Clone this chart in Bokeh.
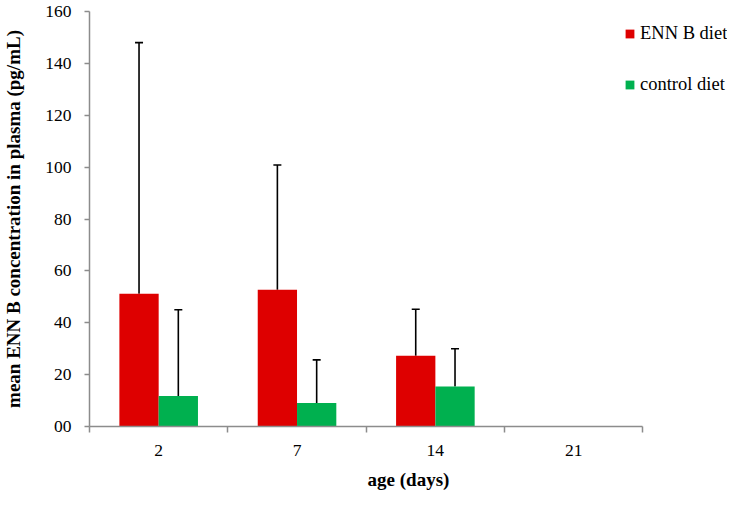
import numpy as np
from bokeh.plotting import figure
from bokeh.models import (ColumnDataSource, FixedTicker, Whisker, TeeHead, Legend, LegendItem, Range1d)
from bokeh.embed import file_html
from bokeh.resources import INLINE

ages = ["2", "7", "14", "21"]
enn_mean = [51.2, 52.7, 27.3, np.nan]
enn_sd = [96.8, 48.1, 17.9, np.nan]
ctrl_mean = [11.8, 9.1, 15.4, np.nan]
ctrl_sd = [33.2, 16.6, 14.6, np.nan]
y_ticks = [0, 20, 40, 60, 80, 100, 120, 140, 160]

RED = "#DE0000"
GREEN = "#00B04F"
AXIS = "#8C8C8C"
FONT = "Liberation Serif"

W, H = 727, 492
LEFT, TOP, BOTTOM = 86, 11, 64
AXIS_PX = 556            # pixel length of the category axis
frame_w = W - LEFT       # frame runs to the right edge so the legend is not clipped
x_end = len(ages) * frame_w / AXIS_PX

bw = 0.284
idx = np.arange(len(ages))

p = figure(width=W, height=H, output_backend="svg", toolbar_location=None,
           x_range=Range1d(0, x_end), y_range=Range1d(0, 160),
           min_border_left=LEFT, min_border_top=TOP, min_border_right=0, min_border_bottom=BOTTOM)
p.grid.visible = False
p.outline_line_color = None
p.background_fill_color = "white"
p.border_fill_color = "white"

def series(mean, sd, offset):
    m = np.array(mean, dtype=float)
    s = np.array(sd, dtype=float)
    ok = ~np.isnan(m)
    x = idx[ok] + 0.5 + offset
    return ColumnDataSource(dict(x=x, top=m[ok], upper=m[ok] + s[ok]))

src_r = series(enn_mean, enn_sd, -bw / 2)
src_g = series(ctrl_mean, ctrl_sd, bw / 2)

for src in (src_r, src_g):
    w = Whisker(source=src, base="x", lower="top", upper="upper", dimension="height",
                line_color="black", line_width=1.6, lower_head=None,
                upper_head=TeeHead(size=8, line_color="black", line_width=1.6))
    p.add_layout(w)

r_red = p.vbar(x="x", top="top", bottom=0, width=bw, source=src_r, fill_color=RED, line_color=None)
r_green = p.vbar(x="x", top="top", bottom=0, width=bw, source=src_g, fill_color=GREEN, line_color=None)

# x axis
xa = p.xaxis[0]
xa.bounds = (0, len(ages))
xa.ticker = FixedTicker(ticks=list(idx + 0.5), minor_ticks=list(range(len(ages) + 1)))
xa.major_label_overrides = {float(i + 0.5): a for i, a in enumerate(ages)}
xa.major_tick_out = 0
xa.major_tick_in = 0
xa.minor_tick_out = 6
xa.minor_tick_in = 0
xa.minor_tick_line_color = AXIS
xa.minor_tick_line_width = 1.5
xa.axis_line_color = AXIS
xa.axis_line_width = 1.5
xa.major_label_text_font = FONT
xa.major_label_text_font_size = "17.5px"
xa.major_label_text_color = "black"
xa.major_label_standoff = 12
xa.axis_label = "age (days)"
xa.axis_label_text_font = FONT
xa.axis_label_text_font_style = "bold"
xa.axis_label_text_font_size = "19px"
xa.axis_label_text_color = "black"
xa.axis_label_standoff = 10

# y axis
ya = p.yaxis[0]
ya.ticker = FixedTicker(ticks=y_ticks, minor_ticks=[])
ya.major_label_overrides = {0: "00"}
ya.major_tick_out = 5
ya.major_tick_in = 0
ya.major_tick_line_color = AXIS
ya.major_tick_line_width = 1.5
ya.axis_line_color = AXIS
ya.axis_line_width = 1.5
ya.major_label_text_font = FONT
ya.major_label_text_font_size = "17.5px"
ya.major_label_text_color = "black"
ya.major_label_standoff = 13
ya.axis_label = "mean ENN B concentration in plasma (pg/mL)"
ya.axis_label_text_font = FONT
ya.axis_label_text_font_style = "bold"
ya.axis_label_text_font_size = "19px"
ya.axis_label_text_color = "black"
ya.axis_label_standoff = 18

legend = Legend(items=[LegendItem(label="ENN B diet", renderers=[r_red]),
                       LegendItem(label="control diet", renderers=[r_green])],
                location=(535, 331), orientation="vertical",
                padding=0, margin=0, spacing=30, border_line_color=None,
                background_fill_alpha=0, glyph_width=11, glyph_height=11,
                label_height=21, label_standoff=5,
                label_text_font=FONT, label_text_font_size="18.5px", label_text_color="black")
p.add_layout(legend)

open("out.html", "w").write(file_html(p, INLINE))
